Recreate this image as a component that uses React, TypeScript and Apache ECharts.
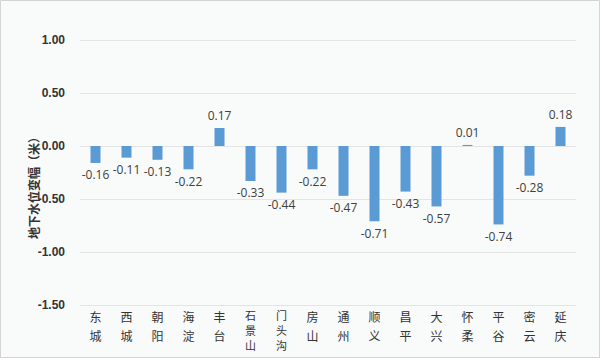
import React, { useEffect, useRef } from "react";
import * as echarts from "echarts";

const categories = ["东城", "西城", "朝阳", "海淀", "丰台", "石景山", "门头沟", "房山", "通州", "顺义", "昌平", "大兴", "怀柔", "平谷", "密云", "延庆"];
const values = [-0.16, -0.11, -0.13, -0.22, 0.17, -0.33, -0.44, -0.22, -0.47, -0.71, -0.43, -0.57, 0.01, -0.74, -0.28, 0.18];
const yTicks = { min: -1.5, max: 1.0, interval: 0.5 };
const yName = "地下水位变幅（米）";

export default function App() {
  const ref = useRef<HTMLDivElement>(null);
  useEffect(() => {
    if (!ref.current) return;
    const chart = echarts.init(ref.current, null, { renderer: "svg" });
    chart.setOption({
      animation: false,
      backgroundColor: "#f9fafa",
      grid: { left: 80, right: 24, top: 40, bottom: 53 },
      graphic: [
        {
          type: "rect",
          shape: { x: 0.5, y: 0.5, width: 599, height: 357 },
          style: { fill: "none", stroke: "#d4d4d4", lineWidth: 1 },
          silent: true,
        },
        {
          type: "text",
          x: 33,
          y: 185,
          rotation: Math.PI / 2,
          style: {
            text: yName,
            fontSize: 12,
            fontWeight: "bold",
            fontFamily: "Noto Sans CJK SC",
            fill: "#333",
            align: "center",
            verticalAlign: "middle",
          },
        },
      ],
      xAxis: {
        type: "category",
        data: categories,
        axisLine: { show: false },
        axisTick: { show: false },
        axisLabel: {
          margin: 2,
          interval: 0,
          formatter: (v: string) => {
            const key = v.length > 2 ? "b" : "a";
            return v.split("").map((c) => `{${key}|${c}}`).join("\n");
          },
          rich: {
            a: { fontSize: 12, lineHeight: 19, fontFamily: "Noto Sans CJK SC", color: "#333" },
            b: { fontSize: 11, lineHeight: 15, fontFamily: "Noto Sans CJK SC", color: "#333" },
          },
        },
      },
      yAxis: {
        type: "value",
        min: yTicks.min,
        max: yTicks.max,
        interval: yTicks.interval,
        axisLine: { show: false },
        axisTick: { show: false },
        splitLine: { lineStyle: { color: "#e4e4e4", width: 1 } },
        axisLabel: {
          formatter: (v: number) => v.toFixed(2),
          fontSize: 12,
          fontWeight: "bold",
          color: "#333",
          fontFamily: "Liberation Sans",
          margin: 15,
        },
      },
      series: [
        {
          type: "bar",
          barWidth: 10,
          itemStyle: { color: "#5b9bd5" },
          data: values.map((v) => ({
            value: v,
            label: { position: v >= 0 ? "top" : "bottom" },
          })),
          label: {
            show: true,
            distance: 6,
            formatter: (p: any) => Number(p.value).toFixed(2),
            fontSize: 12,
            color: "#404040",
            fontFamily: "Open Sans",
          },
        },
      ],
    });
    return () => chart.dispose();
  }, []);
  return (
    <div
      ref={ref}
      style={{ position: "fixed", left: 0, top: 0, width: 600, height: 358 }}
    />
  );
}
